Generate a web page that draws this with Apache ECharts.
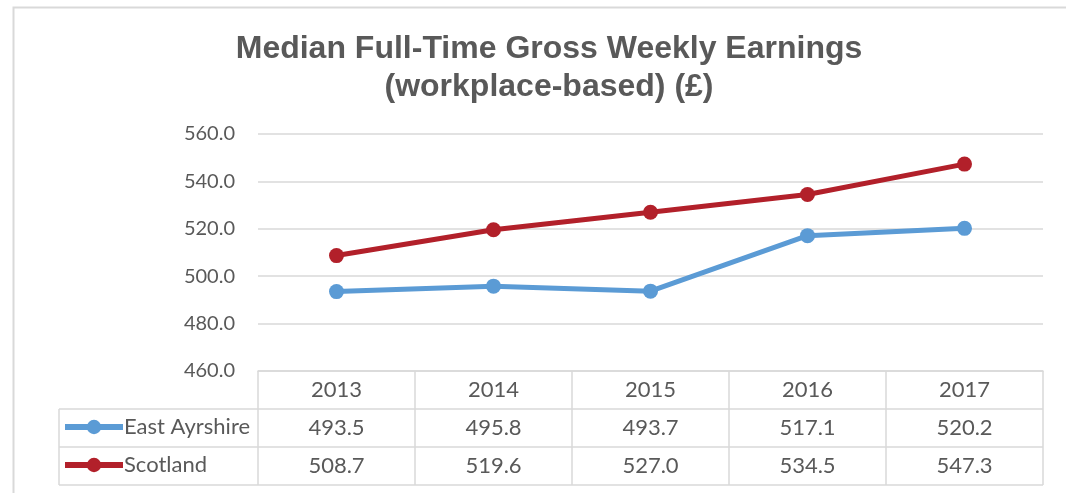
<!DOCTYPE html>
<html>
<head>
<meta charset="utf-8">
<script src="https://cdn.jsdelivr.net/npm/echarts@6/dist/echarts.min.js"></script>
<style>
    html, body { margin: 0; padding: 0; background: #fff; }
    #main { width: 1066px; height: 493px; }
</style>
</head>
<body>
<div id="main"></div>
<script>
var years = ['2013', '2014', '2015', '2016', '2017'];
var eastAyrshire = [493.5, 495.8, 493.7, 517.1, 520.2];
var scotland = [508.7, 519.6, 527.0, 534.5, 547.3];

var seriesNames = ['East Ayrshire', 'Scotland'];
var colors = ['#5B9BD5', '#B2202A'];
var textColor = '#595959';
var lineColor = '#D9D9D9';
var font = 'Lato';

// table layout (pixels)
var gridLeft = 258, gridRight = 1043, gridTop = 134, axisY = 371;
var rowH = 38;
var tableLeft = 59;

var myChart = echarts.init(document.getElementById('main'));

function fmt(v) { return v.toFixed(1); }

// one extra category axis per table row, shifted down one row each
function rowAxis(values, idx) {
    return {
        type: 'category',
        data: values.map(fmt),
        position: 'bottom',
        offset: rowH * (idx + 1),
        axisLine: { show: false },
        axisTick: { show: false },
        axisLabel: { color: textColor, fontFamily: font, fontSize: 22, margin: 8 }
    };
}

// legend key for each table row
function rowLegend(name, idx) {
    return {
        left: 62,
        top: axisY + rowH * (idx + 1) + 7,
        padding: 0,
        itemWidth: 58,
        itemHeight: 18,
        lineStyle: { width: 6 },
        textStyle: { color: textColor, fontFamily: font, fontSize: 22, padding: [0, 0, 0, -4] },
        data: [name]
    };
}

var shapes = [];
[1, 2, 3].forEach(function (r) {
    shapes.push({
        type: 'line',
        shape: { x1: tableLeft, y1: axisY + rowH * r, x2: gridRight, y2: axisY + rowH * r },
        style: { stroke: lineColor, lineWidth: 1.5 }
    });
});
shapes.push({
    type: 'line',
    shape: { x1: tableLeft, y1: axisY + rowH, x2: tableLeft, y2: axisY + rowH * 3 },
    style: { stroke: lineColor, lineWidth: 1.5 }
});
// outer chart-area frame
shapes.push({
    type: 'rect',
    shape: { x: 13.5, y: 7.5, width: 1100, height: 520 },
    style: { fill: null, stroke: lineColor, lineWidth: 2 }
});

var option = {
    animation: false,
    color: colors,
    title: {
        text: 'Median Full-Time Gross Weekly Earnings\n(workplace-based) (£)',
        left: 544,
        top: 25,
        textAlign: 'center',
        textStyle: {
            color: textColor,
            fontFamily: 'Liberation Sans',
            fontSize: 32,
            fontWeight: 'bold',
            lineHeight: 38,
            align: 'center'
        }
    },
    legend: [rowLegend(seriesNames[0], 0), rowLegend(seriesNames[1], 1)],
    grid: {
        left: gridLeft,
        right: 1066 - gridRight,
        top: gridTop,
        bottom: 493 - axisY,
        containLabel: false
    },
    xAxis: [
        {
            type: 'category',
            data: years,
            boundaryGap: true,
            axisLine: { show: true, lineStyle: { color: lineColor, width: 1.5 } },
            axisTick: { show: true, length: rowH * 3, lineStyle: { color: lineColor, width: 1.5 } },
            axisLabel: { color: textColor, fontFamily: font, fontSize: 22, margin: 8 }
        },
        rowAxis(eastAyrshire, 0),
        rowAxis(scotland, 1)
    ],
    yAxis: {
        type: 'value',
        min: 460,
        max: 560,
        interval: 20,
        axisLine: { show: false },
        axisTick: { show: false },
        axisLabel: {
            color: textColor,
            fontFamily: font,
            fontSize: 20,
            margin: 23,
            formatter: function (v) { return v.toFixed(1); }
        },
        splitLine: { lineStyle: { color: lineColor, width: 1.5 } }
    },
    series: [
        {
            name: seriesNames[0],
            type: 'line',
            data: eastAyrshire,
            symbol: 'circle',
            symbolSize: 15,
            lineStyle: { width: 5 }
        },
        {
            name: seriesNames[1],
            type: 'line',
            data: scotland,
            symbol: 'circle',
            symbolSize: 15,
            lineStyle: { width: 5 }
        }
    ],
    graphic: shapes
};

myChart.setOption(option);
</script>
</body>
</html>
